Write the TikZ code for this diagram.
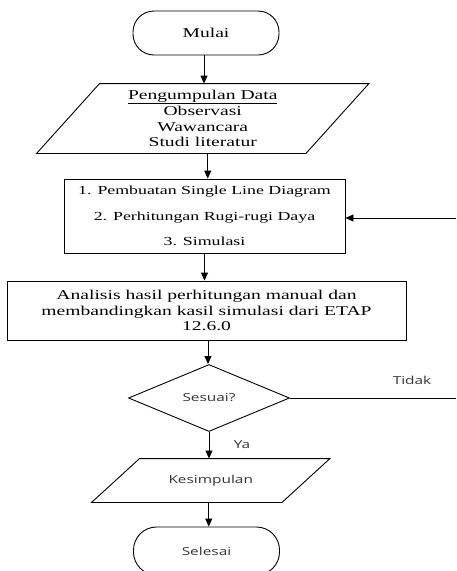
\documentclass[tikz,border=0pt]{standalone}
\usepackage{fontspec}
\setmainfont{Liberation Serif}[FakeStretch=1.45]
\newfontfamily\sansf{Open Sans}[FakeStretch=1.4]
\usetikzlibrary{shapes.geometric,arrows.meta}
\begin{document}
\begin{tikzpicture}[x=1pt,y=-1pt, line width=0.9pt,
  serif/.style={font=\fontsize{13.5}{15.5}\selectfont, align=center},
  sans/.style={font=\sansf\fontsize{11}{13}\selectfont, text=black!80},
  term/.style={draw, rounded corners=21pt, minimum width=146pt, minimum height=44pt, inner sep=0pt},
  box/.style={draw, inner sep=0pt},
  plain/.style={inner sep=0pt},
  arr/.style={-{Triangle[length=8pt,width=7pt]}}]
\useasboundingbox (0,0) rectangle (456,571);
\clip (0,0) rectangle (456,571);

\node[term, serif] (mulai) at (206,33) {Mulai};

\node[plain, serif, minimum width=268.5pt, minimum height=69pt] (data) at (202.75,118.5)
  {\underline{Pengumpulan Data}\\[1pt]Observasi\\Wawancara\\Studi literatur};
\draw ([xshift=31.5pt]data.north west) -- ([xshift=31.5pt]data.north east)
  -- ([xshift=-31.5pt]data.south east) -- ([xshift=-31.5pt]data.south west) -- cycle;

\node[box, minimum width=281pt, minimum height=74pt, align=center,
  font=\fontsize{12.3}{25.5}\selectfont] (proc) at (204.5,216)
  {1. Pembuatan Single Line Diagram\\2. Perhitungan Rugi-rugi Daya\\3. Simulasi};

\node[box, serif, minimum width=399pt, minimum height=59pt] (anal) at (206.5,310.5)
  {Analisis hasil perhitungan manual dan\\membandingkan kasil simulasi dari ETAP\\12.6.0};

\node[draw, diamond, sans, minimum width=161pt, minimum height=67pt, inner sep=0pt] (dec) at (209,398) {Sesuai?};

\node[plain, sans, minimum width=189.5pt, minimum height=43pt] (kes) at (210.75,480.5) {Kesimpulan};
\draw ([xshift=24pt]kes.north west) -- ([xshift=24pt]kes.north east)
  -- ([xshift=-24pt]kes.south east) -- ([xshift=-24pt]kes.south west) -- cycle;

\node[term, sans, minimum height=48pt, rounded corners=23pt] (sel) at (206.5,551) {Selesai};

\node[sans] (ya) at (242,445) {Ya};
\node[sans] (tidak) at (412,380) {Tidak};

\coordinate (r1) at (456,398);
\coordinate (r2) at (456,218);

\draw[arr] ([xshift=-2pt]mulai.south) -- ([xshift=-2pt]mulai.south |- data.north);
\draw[arr] ([xshift=5pt]data.south) -- ([xshift=5pt]data.south |- proc.north);
\draw[arr] (proc.south) -- (proc.south |- anal.north);
\draw[arr] ([xshift=1.5pt]anal.south) -- ([xshift=1.5pt]anal.south |- dec.north);
\draw[arr] (dec.south) -- (dec.south |- kes.north);
\draw[arr] ([xshift=-2pt]kes.south) -- ([xshift=-2pt]kes.south |- sel.north);
\draw (dec.east) -- (r1);
\draw[arr] (r2) -- (proc.east |- r2);
\end{tikzpicture}
\end{document}
